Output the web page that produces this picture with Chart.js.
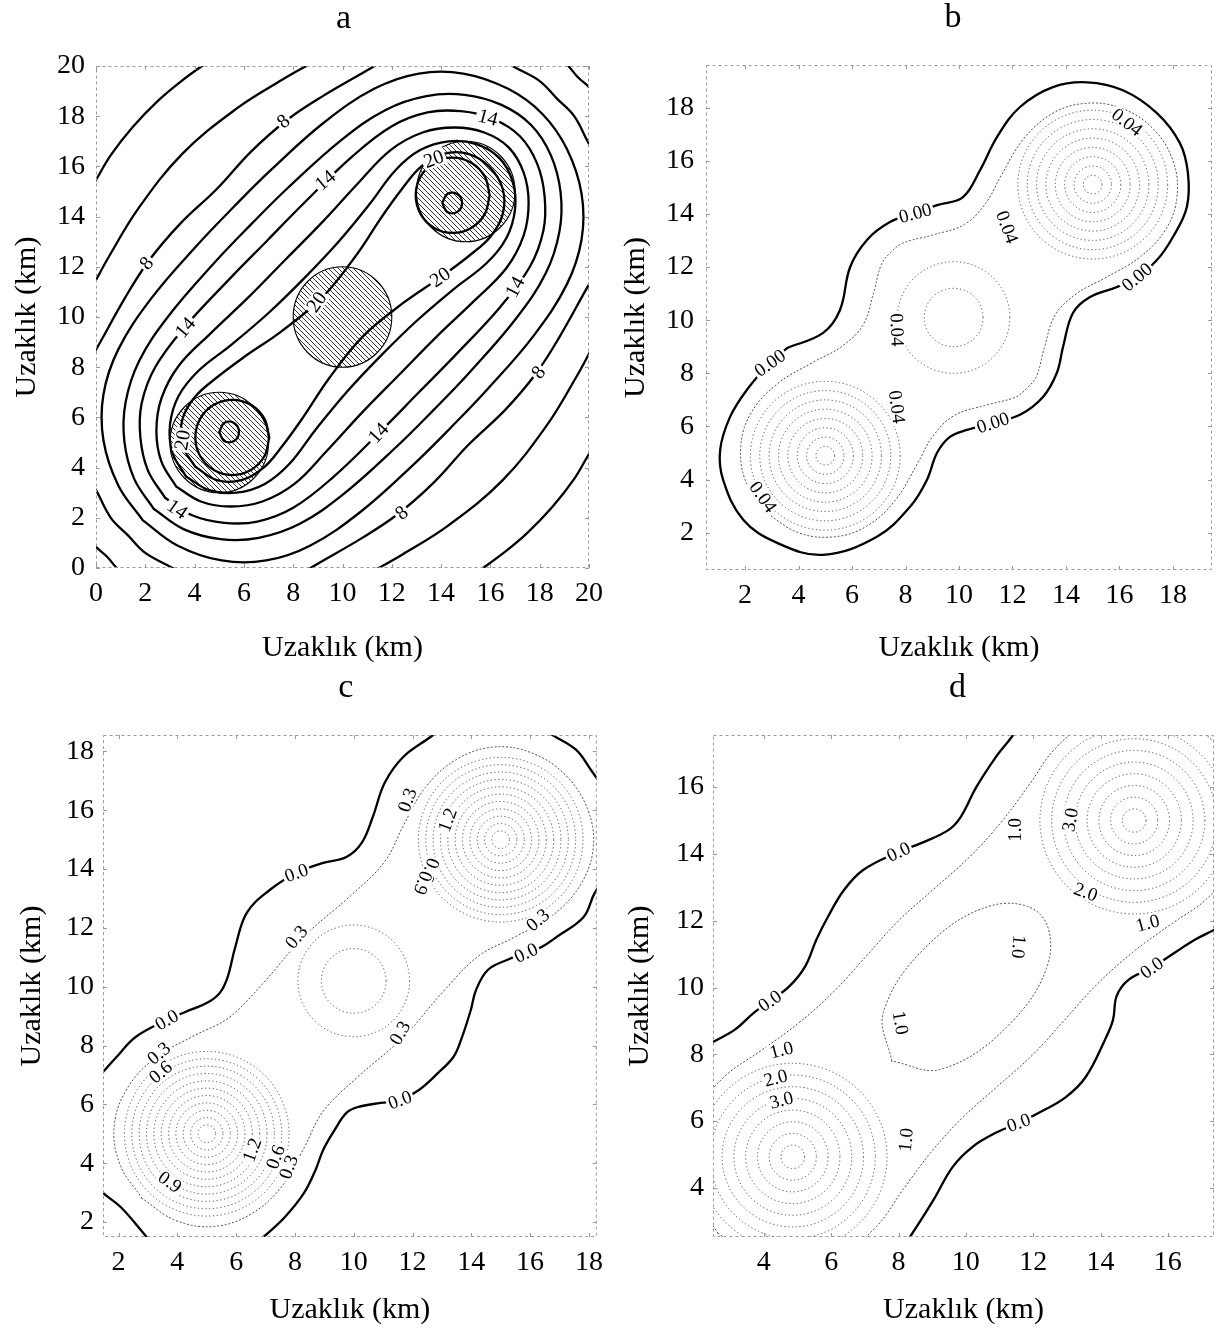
<!DOCTYPE html>
<html><head><meta charset="utf-8">
<script src="https://cdn.jsdelivr.net/npm/chart.js@4.4.1/dist/chart.umd.min.js"></script>
<style>
html,body{margin:0;padding:0;background:#fff;}
#wrap{position:relative;width:1225px;height:1335px;overflow:hidden;}
canvas{position:absolute;}
</style></head><body><div id="wrap">
<canvas id="a" width="612" height="667" style="left:0;top:0"></canvas>
<canvas id="b" width="613" height="667" style="left:612px;top:0"></canvas>
<canvas id="c" width="612" height="668" style="left:0;top:667px"></canvas>
<canvas id="d" width="613" height="668" style="left:612px;top:667px"></canvas>
</div>
<script>
// ---------- tick values ----------
const aTicks = [0,2,4,6,8,10,12,14,16,18,20];
const bTicks = [2,4,6,8,10,12,14,16,18];
const cTicks = [2,4,6,8,10,12,14,16,18];
const dTicks = [4,6,8,10,12,14,16];

// ---------- panel a : contour lines (x,y in km) ----------
const aA_ul = [[-0.4,14.8],[0,15.46],[0.6,16.45],[1.49,17.57],[2.5,18.6],[3.4,19.35],[4.3,20],[4.9,20.4]];
const aA_lr = [[20.4,5.1],[20,4.54],[19.4,3.55],[18.51,2.43],[17.5,1.4],[16.6,0.65],[15.7,0],[15.1,-0.4]];
const aB_ul = [[-0.3,10.9],[0,11.47],[0.55,12.45],[1.7,14.3],[3.5,16.5],[5.7,18.3],[7.55,19.45],[8.53,20],[9.1,20.3]];
const aB_lr = [[20.3,9.1],[20,8.53],[19.45,7.55],[18.3,5.7],[16.5,3.5],[14.3,1.7],[12.45,0.55],[11.47,0],[10.9,-0.3]];
const aB_ll = [[-0.3,1.2],[0,0.84],[0.45,0.45],[0.84,0],[1.2,-0.3]];
const aB_ur = [[18.8,20.3],[19.16,20],[19.55,19.55],[20,19.16],[20.3,18.8]];
const a8_ul = [[-0.5,7.9],[0,8.7],[1.2,10.8],[2.15,12.25],[3.4,13.7],[4.9,15.1],[6.3,16.6],[7.75,17.85],[9.2,18.8],[11.3,20],[12.1,20.5]];
const a8_lr = [[20.5,12.1],[20,11.3],[18.8,9.2],[17.85,7.75],[16.6,6.3],[15.1,4.9],[13.7,3.4],[12.25,2.15],[10.8,1.2],[8.7,0],[7.9,-0.5]];
const a8_ll = [[-0.4,3.7],[0,3.1],[0.6,2.0],[1.3,1.3],[2.0,0.6],[3.1,0],[3.7,-0.4]];
const a8_ur = [[16.3,20.4],[16.9,20],[18.0,19.4],[18.7,18.7],[19.4,18.0],[20,16.9],[20.4,16.3]];
const a10 = [[1.9,1.9],[0.9,3.3],[0.3,5.1],[0.3,6.9],[0.9,8.7],[2.25,10.75],[4.12,12.88],[5.6,14.4],[7.12,15.88],[9.25,17.75],[11.3,19.1],[13.1,19.7],[14.9,19.7],[16.7,19.1],[18.1,18.1],[19.1,16.7],[19.7,14.9],[19.7,13.1],[19.1,11.3],[17.75,9.25],[15.88,7.12],[14.4,5.6],[12.88,4.12],[10.75,2.25],[8.7,0.9],[6.9,0.3],[5.1,0.3],[3.3,0.9],[1.9,1.9]];
const a12 = [[2.35,2.35],[1.55,3.55],[1.15,5.05],[1.2,6.6],[1.75,8.25],[2.95,10.05],[4.82,12.18],[6.3,13.7],[7.82,15.18],[9.95,17.05],[11.75,18.25],[13.4,18.8],[14.95,18.85],[16.45,18.45],[17.65,17.65],[18.45,16.45],[18.85,14.95],[18.8,13.4],[18.25,11.75],[17.05,9.95],[15.18,7.82],[13.7,6.3],[12.18,4.82],[10.05,2.95],[8.25,1.75],[6.6,1.2],[5.05,1.15],[3.55,1.55],[2.35,2.35]];
const a14 = [[2.8,2.8],[2.1,3.9],[1.8,5.2],[1.85,6.55],[2.4,8.0],[3.6,9.6],[5.45,11.55],[6.95,13.05],[8.45,14.55],[10.4,16.4],[12.0,17.6],[13.45,18.15],[14.8,18.2],[16.1,17.9],[17.2,17.2],[17.9,16.1],[18.2,14.8],[18.15,13.45],[17.6,12.0],[16.4,10.4],[14.55,8.45],[13.05,6.95],[11.55,5.45],[9.6,3.6],[8.0,2.4],[6.55,1.85],[5.2,1.8],[3.9,2.1],[2.8,2.8]];
const a16 = [[3.25,3.25],[2.65,4.25],[2.45,5.45],[2.65,6.75],[3.35,8.05],[4.65,9.35],[6.2,10.8],[7.7,12.3],[9.2,13.8],[10.65,15.35],[11.95,16.65],[13.25,17.35],[14.55,17.55],[15.75,17.35],[16.75,16.75],[17.35,15.75],[17.55,14.55],[17.35,13.25],[16.65,11.95],[15.35,10.65],[13.8,9.2],[12.3,7.7],[10.8,6.2],[9.35,4.65],[8.05,3.35],[6.75,2.65],[5.45,2.45],[4.25,2.65],[3.25,3.25]];
const a18 = [[3.65,3.65],[3.1,4.6],[3.0,5.7],[3.35,6.85],[4.15,7.85],[5.5,8.9],[7.02,10.18],[8.45,11.55],[9.82,12.98],[11.1,14.5],[12.15,15.85],[13.15,16.65],[14.3,17.0],[15.4,16.9],[16.35,16.35],[16.9,15.4],[17.0,14.3],[16.65,13.15],[15.85,12.15],[14.5,11.1],[12.98,9.82],[11.55,8.45],[10.18,7.02],[8.9,5.5],[7.85,4.15],[6.85,3.35],[5.7,3.0],[4.6,3.1],[3.65,3.65]];
const a20 = [[4.03,4.03],[3.5,4.9],[3.5,5.9],[4.0,6.8],[4.85,7.55],[6.0,8.4],[7.55,9.45],[9.2,10.8],[10.55,12.45],[11.6,14.0],[12.45,15.15],[13.2,16.0],[14.1,16.5],[15.1,16.5],[15.97,15.97],[16.5,15.1],[16.5,14.1],[16.0,13.2],[15.15,12.45],[14.0,11.6],[12.45,10.55],[10.8,9.2],[9.45,7.55],[8.4,6.0],[7.55,4.85],[6.8,4.0],[5.9,3.5],[4.9,3.5],[4.03,4.03]];
const a22_lo = [[7.03,5.2],[6.83,5.95],[6.28,6.5],[5.53,6.7],[4.78,6.5],[4.23,5.95],[4.03,5.2],[4.23,4.45],[4.78,3.9],[5.53,3.7],[6.28,3.9],[6.83,4.45],[7.03,5.2]];
const a22_hi = [[15.97,14.85],[15.77,15.6],[15.22,16.15],[14.47,16.35],[13.72,16.15],[13.17,15.6],[12.97,14.85],[13.17,14.1],[13.72,13.55],[14.47,13.35],[15.22,13.55],[15.77,14.1],[15.97,14.85]];
const a24_lo = [[5.0,5.42],[5.2,5.78],[5.6,5.78],[5.8,5.42],[5.6,5.06],[5.2,5.06],[5.0,5.42]];
const a24_hi = [[14.05,14.54],[14.25,14.9],[14.65,14.9],[14.85,14.54],[14.65,14.18],[14.25,14.18],[14.05,14.54]];
// hatched cells
const aCellX = [5,10,15];
const aCellY = [5,10,15];
const aCellR = [2,2,2];
const aLabels = [
 {x:2.05,y:12.15,t:'8',a:-50},{x:7.6,y:17.8,t:'8',a:-40},{x:12.4,y:2.2,t:'8',a:-40},{x:17.95,y:7.8,t:'8',a:-52},
 {x:3.62,y:9.58,t:'14',a:-50},{x:9.3,y:15.45,t:'14',a:-40},{x:15.9,y:17.95,t:'14',a:15},{x:3.3,y:2.35,t:'14',a:35},
 {x:11.45,y:5.38,t:'14',a:-48},{x:17.0,y:11.2,t:'14',a:-62},
 {x:3.5,y:5.1,t:'20',a:-80},{x:8.95,y:10.6,t:'20',a:-55},{x:13.96,y:11.59,t:'20',a:-35},{x:13.7,y:16.3,t:'20',a:-20}
];

// ---------- panel b ----------
const b00 = [[3.57,8.95],[4.92,9.52],[5.55,10.38],[5.93,12.0],[6.56,13.02],[7.42,13.69],[8.36,14.03],[9.18,14.33],[10.15,14.63],[10.79,15.65],[11.42,16.89],[12.28,18.02],[13.51,18.77],[14.79,18.95],[16.13,18.65],[17.4,17.79],[18.26,16.66],[18.56,15.53],[18.52,14.26],[18.0,13.13],[17.4,12.26],[16.65,11.62],[15.91,11.25],[14.9,10.87],[14.26,10.27],[13.89,8.99],[13.66,8.02],[13.14,7.11],[12.28,6.44],[11.27,6.14],[10.3,5.87],[9.66,5.61],[9.18,5.01],[8.8,3.99],[8.17,2.98],[6.93,1.85],[4.92,1.17],[3.2,1.62],[1.93,2.49],[1.18,3.99],[1.07,5.12],[1.44,6.36],[2.07,7.38],[2.93,8.39],[3.57,8.95]];
const bD1 = [[2.77,2.77],[2.0,4.0],[1.85,5.35],[2.25,6.55],[3.2,7.6],[4.57,8.43],[5.6,9.0],[6.4,9.8],[6.8,11.0],[7.1,12.1],[7.45,12.55],[7.9,12.9],[9.0,13.2],[10.2,13.6],[11.0,14.4],[11.57,15.43],[12.4,16.8],[13.45,17.75],[14.65,18.15],[16.0,18.0],[17.23,17.23],[18.0,16.0],[18.15,14.65],[17.75,13.45],[16.8,12.4],[15.43,11.57],[14.4,11.0],[13.6,10.2],[13.2,9.0],[12.9,7.9],[12.55,7.45],[12.1,7.1],[11.0,6.8],[9.8,6.4],[9.0,5.6],[8.43,4.57],[7.6,3.2],[6.55,2.25],[5.35,1.85],[4.0,2.0],[2.77,2.77]];
const bRingCenters = [[5.0,4.9],[15.0,15.1]];
const bRingRadii = [0.35,0.7,1.05,1.4,1.75,2.1,2.45,2.8];
const bMidCenters = [[9.8,10.1]];
const bMidRadii = [1.1,2.1];
const bLabels = [
 {x:2.93,y:8.39,t:'0.00',a:-35},{x:8.36,y:14.03,t:'0.00',a:-15},{x:16.65,y:11.62,t:'0.00',a:-40},{x:11.27,y:6.14,t:'0.00',a:-18},
 {x:16.28,y:17.45,t:'0.04',a:38},{x:11.8,y:13.5,t:'0.04',a:70},{x:7.68,y:9.63,t:'0.04',a:88},{x:7.68,y:6.74,t:'0.04',a:82},{x:2.67,y:3.35,t:'0.04',a:55}
];

// ---------- panel c ----------
const c00_ul = [[1.2,6.8],[1.47,7.1],[1.93,7.61],[2.58,8.29],[3.64,8.87],[4.27,9.14],[5.06,9.48],[5.45,9.8],[5.71,10.33],[5.97,11.35],[6.36,12.51],[7.14,13.29],[8.05,13.87],[8.96,14.21],[9.75,14.41],[10.27,14.89],[10.65,15.78],[11.05,16.93],[11.69,17.82],[12.62,18.5],[13.0,18.8]];
const c00_lr = [[18.6,13.7],[18.2,13.19],[17.82,12.37],[16.9,11.69],[16.39,11.35],[15.86,11.15],[15.21,10.91],[14.56,10.57],[14.16,9.89],[13.98,9.2],[13.65,8.19],[13.39,7.61],[12.87,7.07],[12.22,6.49],[11.57,6.15],[10.92,6.05],[10.14,5.91],[9.75,5.71],[9.35,5.13],[8.96,4.45],[8.7,3.77],[8.31,2.99],[7.66,2.17],[7.01,1.56],[6.6,1.2]];
const c00_ll = [[1.2,3.3],[1.47,2.99],[2.07,2.51],[2.84,1.63],[3.1,1.3]];
const c00_ur = [[16.4,18.8],[16.76,18.56],[17.56,18.06],[18.07,17.37],[18.4,16.9]];
const cD03 = [[2.8,2.8],[2.05,3.95],[1.85,5.25],[2.28,6.52],[3.23,7.57],[4.5,8.3],[5.75,8.95],[6.9,10.1],[8.3,11.7],[9.9,13.1],[11.05,14.25],[11.7,15.5],[12.43,16.77],[13.48,17.72],[14.75,18.15],[16.05,17.95],[17.2,17.2],[17.95,16.05],[18.15,14.75],[17.72,13.48],[16.77,12.43],[15.5,11.7],[14.25,11.05],[13.1,9.9],[11.7,8.3],[10.1,6.9],[8.95,5.75],[8.3,4.5],[7.57,3.23],[6.52,2.28],[5.25,1.85],[3.95,2.05],[2.8,2.8]];
const cRingCenters = [[5.0,5.0],[15.0,15.0]];
const cRingRadii = [0.3,0.55,0.8,1.05,1.3,1.55,1.8,2.05,2.3,2.55,2.8];
const cMidCenters = [[10.0,10.2]];
const cMidRadii = [1.1,1.9];
const cLabels = [
 {x:3.64,y:8.87,t:'0.0',a:-30},{x:8.05,y:13.87,t:'0.0',a:-20},{x:15.86,y:11.15,t:'0.0',a:-25},{x:11.57,y:6.15,t:'0.0',a:-20},
 {x:3.37,y:7.74,t:'0.3',a:-40},{x:3.43,y:7.1,t:'0.6',a:-40},{x:3.75,y:3.36,t:'0.9',a:35},
 {x:6.54,y:4.45,t:'1.2',a:-70},{x:7.34,y:4.21,t:'0.6',a:-70},{x:7.78,y:3.87,t:'0.3',a:-70},
 {x:8.05,y:11.69,t:'0.3',a:-50},{x:11.57,y:8.43,t:'0.3',a:-60},{x:11.82,y:16.35,t:'0.3',a:-70},
 {x:13.19,y:15.67,t:'1.2',a:-70},{x:12.6,y:13.97,t:'0.6',a:110},{x:12.35,y:13.53,t:'0.9',a:110},{x:16.26,y:12.27,t:'0.3',a:-40}
];

// ---------- panel d ----------
const d00_ul = [[2.2,8.2],[2.49,8.37],[3.13,8.73],[3.7,9.24],[4.18,9.6],[4.74,10.02],[5.22,10.62],[5.56,11.43],[5.9,12.11],[6.38,12.92],[6.95,13.52],[8.0,14.06],[8.69,14.33],[9.49,14.72],[9.85,15.11],[10.31,16.0],[10.89,16.9],[11.36,17.5],[11.6,17.9]];
const d00_lr = [[17.7,11.9],[17.37,11.72],[16.8,11.43],[16.2,11.04],[15.52,10.59],[14.83,10.23],[14.48,9.75],[14.37,9.03],[14.13,8.43],[13.56,7.32],[12.97,6.72],[12.17,6.25],[11.57,5.95],[10.89,5.65],[10.2,5.23],[9.61,4.63],[9.04,3.64],[8.34,2.53],[8.1,2.2]];
const dD10 = [[2.64,2.64],[1.9,3.8],[1.65,5.15],[2.05,6.35],[2.85,7.35],[3.9,8.1],[5.05,8.95],[6.1,9.9],[7.05,10.95],[8.0,12.0],[9.05,12.95],[10.1,13.9],[11.05,14.95],[11.9,16.1],[12.65,17.15],[13.65,17.95],[14.85,18.35],[16.2,18.1],[17.36,17.36],[18.1,16.2],[18.35,14.85],[17.95,13.65],[17.15,12.65],[16.1,11.9],[14.95,11.05],[13.9,10.1],[12.95,9.05],[12.0,8.0],[10.95,7.05],[9.9,6.1],[8.95,5.05],[8.1,3.9],[7.35,2.85],[6.35,2.05],[5.15,1.65],[3.8,1.9],[2.64,2.64]];
const dMid10 = [[7.8,7.8],[7.55,9.25],[8.8,11.2],[10.75,12.45],[12.2,12.2],[12.45,10.75],[11.2,8.8],[9.25,7.55],[7.8,7.8]];
const dRingCenters = [[4.86,4.93],[15.0,15.0]];
const dRingRadii = [0.35,0.7,1.05,1.4,1.75,2.1,2.45,2.8];
const dLabels = [
 {x:4.18,y:9.6,t:'0.0',a:-35},{x:8.0,y:14.06,t:'0.0',a:-25},{x:15.52,y:10.59,t:'0.0',a:-35},{x:11.57,y:5.95,t:'0.0',a:-20},
 {x:4.52,y:8.13,t:'1.0',a:-15},{x:4.35,y:7.29,t:'2.0',a:-15},{x:4.52,y:6.63,t:'3.0',a:-15},
 {x:8.06,y:8.94,t:'1.0',a:80},{x:8.22,y:5.44,t:'1.0',a:-85},{x:11.46,y:14.72,t:'1.0',a:-90},
 {x:13.1,y:15.02,t:'3.0',a:-80},{x:13.56,y:12.86,t:'2.0',a:20},{x:15.4,y:11.93,t:'1.0',a:-15},{x:11.57,y:11.22,t:'1.0',a:95}
];

// ---------- rendering ----------
const FONT = "'Liberation Serif','Times New Roman',serif";
Chart.defaults.font.family = FONT;
Chart.defaults.color = '#000';

const SOLID = {c:'#000', w:2.3, d:[]};
const DOT = {c:'#4a4a4a', w:1, d:[1.2,2.6]};

const extras = {
  a: {letter:'a', lx:1, labels:aLabels, lsize:20, cells:{x:aCellX,y:aCellY,r:aCellR}, rings:[], xt:aTicks, yt:aTicks},
  b: {letter:'b', lx:-6, labels:bLabels, lsize:19, rings:[{c:bRingCenters,r:bRingRadii},{c:bMidCenters,r:bMidRadii}], xt:bTicks, yt:bTicks},
  c: {letter:'c', lx:-4, labels:cLabels, lsize:19, rings:[{c:cRingCenters,r:cRingRadii},{c:cMidCenters,r:cMidRadii}], xt:cTicks, yt:cTicks},
  d: {letter:'d', lx:-6, labels:dLabels, lsize:19, rings:[{c:dRingCenters,r:dRingRadii}], xt:dTicks, yt:dTicks}
};

function hatchPattern(ctx){
  const pc = document.createElement('canvas'); pc.width = 5; pc.height = 5;
  const g = pc.getContext('2d');
  g.strokeStyle = '#1a1a1a'; g.lineWidth = 0.9;
  g.beginPath(); g.moveTo(-1,-1); g.lineTo(6,6); g.moveTo(-1,4); g.lineTo(1,6); g.moveTo(4,-1); g.lineTo(6,1); g.stroke();
  return ctx.createPattern(pc,'repeat');
}

const overlay = {
  id:'overlay',
  beforeDatasetsDraw(chart){
    const ex = extras[chart.canvas.id]; if(!ex) return;
    const {ctx, chartArea:ca, scales:{x,y}} = chart;
    ctx.save();
    ctx.beginPath(); ctx.rect(ca.left, ca.top, ca.width, ca.height); ctx.clip();
    if (ex.cells){
      const pat = hatchPattern(ctx);
      ex.cells.x.forEach((cx,i)=>{
        const px = x.getPixelForValue(cx), py = y.getPixelForValue(ex.cells.y[i]);
        const rx = Math.abs(x.getPixelForValue(cx+ex.cells.r[i]) - px);
        const ry = Math.abs(y.getPixelForValue(ex.cells.y[i]+ex.cells.r[i]) - py);
        ctx.beginPath(); ctx.ellipse(px,py,rx,ry,0,0,Math.PI*2);
        ctx.fillStyle = pat; ctx.fill();
        ctx.lineWidth = 1.1; ctx.strokeStyle = '#000'; ctx.setLineDash([]); ctx.stroke();
      });
    }
    ctx.strokeStyle = DOT.c; ctx.lineWidth = DOT.w; ctx.setLineDash(DOT.d);
    ex.rings.forEach(set=>{
      set.c.forEach(cen=>{
        const px = x.getPixelForValue(cen[0]), py = y.getPixelForValue(cen[1]);
        set.r.forEach(r=>{
          const rx = Math.abs(x.getPixelForValue(cen[0]+r)-px), ry = Math.abs(y.getPixelForValue(cen[1]+r)-py);
          ctx.beginPath(); ctx.ellipse(px,py,rx,ry,0,0,Math.PI*2); ctx.stroke();
        });
      });
    });
    ctx.restore();
  },
  afterDatasetsDraw(chart){
    const ex = extras[chart.canvas.id]; if(!ex) return;
    const {ctx, chartArea:ca, scales:{x,y}} = chart;
    ctx.save();
    ctx.strokeStyle = '#9a9a9a'; ctx.lineWidth = 1; ctx.setLineDash([3,3]);
    ctx.strokeRect(ca.left+0.5, ca.top+0.5, ca.width-1, ca.height-1);
    ctx.setLineDash([]);
    ctx.beginPath();
    ex.xt.forEach(v=>{ const px = Math.round(x.getPixelForValue(v))+0.5; ctx.moveTo(px,ca.bottom); ctx.lineTo(px,ca.bottom-4); ctx.moveTo(px,ca.top); ctx.lineTo(px,ca.top+4); });
    ex.yt.forEach(v=>{ const py = Math.round(y.getPixelForValue(v))+0.5; ctx.moveTo(ca.left,py); ctx.lineTo(ca.left+4,py); ctx.moveTo(ca.right,py); ctx.lineTo(ca.right-4,py); });
    ctx.stroke();
    ctx.font = ex.lsize + 'px ' + FONT;
    ctx.textAlign = 'center'; ctx.textBaseline = 'middle';
    ex.labels.forEach(l=>{
      const px = x.getPixelForValue(l.x), py = y.getPixelForValue(l.y);
      ctx.save(); ctx.translate(px,py); ctx.rotate(l.a*Math.PI/180);
      const w = ctx.measureText(l.t).width;
      ctx.fillStyle = '#fff'; ctx.fillRect(-w/2-2, -ex.lsize*0.42, w+4, ex.lsize*0.84);
      ctx.fillStyle = '#000'; ctx.fillText(l.t, 0, 1);
      ctx.restore();
    });
    ctx.restore();
  },
  afterDraw(chart){
    const ex = extras[chart.canvas.id]; if(!ex) return;
    const {ctx, chartArea:ca} = chart;
    ctx.save();
    ctx.font = '34px ' + FONT; ctx.fillStyle = '#000'; ctx.textAlign = 'center'; ctx.textBaseline = 'alphabetic';
    ctx.fillText(ex.letter, (ca.left+ca.right)/2 + ex.lx, ca.top - 38);
    ctx.restore();
  }
};
Chart.register(overlay);

function ds(pts, st){
  return {data: pts.map(p=>({x:p[0], y:p[1]})), showLine:true, pointRadius:0, borderColor:st.c,
          borderWidth:st.w, borderDash:st.d, tension:0.38, fill:false, clip:0, borderJoinStyle:'round', borderCapStyle:'round'};
}

function makeChart(id, cfg){
  const ex = extras[id];
  new Chart(document.getElementById(id), {
    type:'scatter',
    data:{datasets: cfg.solid.map(p=>ds(p,SOLID)).concat(cfg.dotted.map(p=>ds(p,DOT)))},
    options:{
      animation:false, responsive:false, maintainAspectRatio:false,
      layout:{padding:{left:0, top:cfg.top, right:cfg.right, bottom:0}},
      elements:{line:{capBezierPoints:false}},
      plugins:{legend:{display:false}, tooltip:{enabled:false}},
      scales:{
        x:{type:'linear', min:cfg.xr[0], max:cfg.xr[1],
           afterBuildTicks:s=>{ s.ticks = ex.xt.map(v=>({value:v})); },
           afterFit:s=>{ s.height = cfg.xH; },
           grid:{display:false, drawTicks:false}, border:{display:false},
           ticks:{font:{size:28}, padding:9, maxRotation:0, autoSkip:false, color:'#000'},
           title:{display:true, text:'Uzaklık (km)', font:{size:30}, padding:{top:0, bottom:cfg.xtp}, color:'#000'}},
        y:{type:'linear', min:cfg.yr[0], max:cfg.yr[1],
           afterBuildTicks:s=>{ s.ticks = ex.yt.map(v=>({value:v})); },
           afterFit:s=>{ s.width = cfg.yW; },
           grid:{display:false, drawTicks:false}, border:{display:false},
           ticks:{font:{size:28}, padding:cfg.ytickPad, autoSkip:false, color:'#000'},
           title:{display:true, text:'Uzaklık (km)', font:{size:30}, padding:{top:cfg.ytp, bottom:0}, color:'#000'}}
      }
    }
  });
}

makeChart('a', {solid:[aA_ul,aA_lr,aB_ul,aB_lr,aB_ll,aB_ur,a8_ul,a8_lr,a8_ll,a8_ur,a10,a12,a14,a16,a18,a20,a22_lo,a22_hi,a24_lo,a24_hi], dotted:[],
  top:66, right:19, xH:99, yW:96, xr:[0,20], yr:[0,20], xtp:1, ytp:9, ytickPad:11});
makeChart('b', {solid:[b00], dotted:[bD1],
  top:65, right:13, xH:97, yW:94, xr:[0.54,19.46], yr:[0.6,19.6], xtp:1, ytp:6, ytickPad:12});
makeChart('c', {solid:[c00_ul,c00_lr,c00_ll,c00_ur], dotted:[cD03],
  top:68, right:6, xH:98, yW:103, xr:[1.47,18.27], yr:[1.49,18.56], xtp:7, ytp:14, ytickPad:9});
makeChart('d', {solid:[d00_ul,d00_lr], dotted:[dD10,dMid10],
  top:68, right:11, xH:98, yW:101, xr:[2.49,17.37], yr:[2.53,17.56], xtp:7, ytp:10, ytickPad:9});
</script></body></html>
